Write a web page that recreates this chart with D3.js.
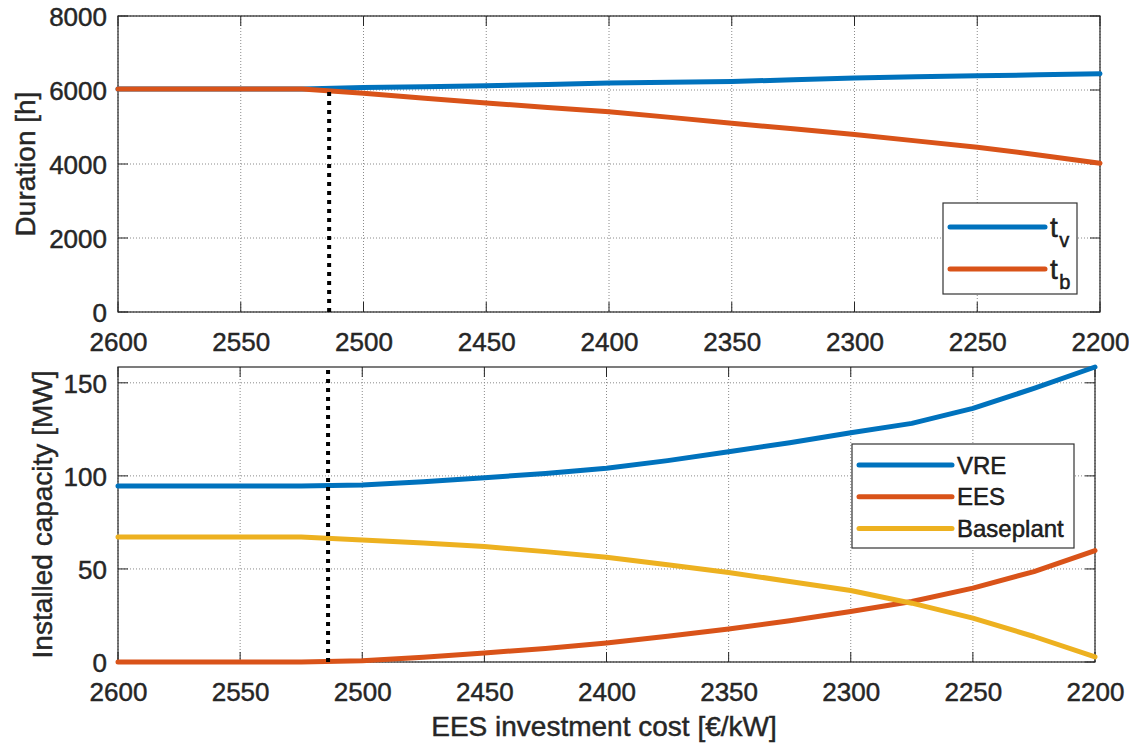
<!DOCTYPE html>
<html><head><meta charset="utf-8">
<script src="https://cdn.jsdelivr.net/npm/d3@7/dist/d3.min.js"></script>
<style>body{margin:0;background:#fff}svg{display:block}text{font-family:"Liberation Sans",Arial,sans-serif;fill:#262626;stroke:#262626;stroke-width:0.45px}</style>
</head><body><svg id="c" width="1129" height="744"></svg>
<script>
const cost = [2600,2575,2550,2525,2500,2475,2450,2425,2400,2375,2350,2325,2300,2275,2250,2225,2200];
const tv = [6030,6030,6030,6030,6070,6090,6115,6150,6188,6210,6231,6275,6322,6355,6385,6410,6439];
const tb = [6030,6030,6030,6030,5910,5780,5649,5530,5415,5260,5100,4950,4795,4625,4453,4245,4022];
const vre = [94.6,94.6,94.6,94.6,95.1,96.8,99,101.3,104.1,108.2,113,117.8,123.2,128.2,136.3,147,158.5];
const ees = [0,0,0,0,0.7,2.5,4.8,7.3,10.2,13.8,17.7,22.2,27.1,32.5,39.7,48.6,59.9];
const base = [67.1,67.1,67.1,67.1,65.6,63.9,62,59.3,56.3,52.3,48.1,43.3,38.4,31.6,23.6,13.7,2.7];
const xTicks = [2600,2550,2500,2450,2400,2350,2300,2250,2200];
const yTicksTop = [0,2000,4000,6000,8000];
const yTicksBot = [0,50,100,150];
const threshold = 2514;
const colors = {blue:"#0072BD", orange:"#D95319", yellow:"#EDB120"};

const svg = d3.select("#c");

function panel(o){
  const x = d3.scaleLinear().domain([2600,2200]).range([o.l,o.r]);
  const y = d3.scaleLinear().domain(o.yd).range([o.b,o.t]);
  const g = svg.append("g");
  g.selectAll(".gx").data(xTicks).enter().append("line")
    .attr("x1",d=>x(d)).attr("x2",d=>x(d)).attr("y1",o.t).attr("y2",o.b)
    .attr("stroke","#8a8a8a").attr("stroke-width",1).attr("stroke-dasharray","1,2");
  g.selectAll(".gy").data(o.yt).enter().append("line")
    .attr("y1",d=>y(d)).attr("y2",d=>y(d)).attr("x1",o.l).attr("x2",o.r)
    .attr("stroke","#8a8a8a").attr("stroke-width",1).attr("stroke-dasharray","1,2");
  const ax = g.append("g").attr("transform",`translate(0,${o.b})`)
    .call(d3.axisBottom(x).tickValues(xTicks).tickSize(0).tickPadding(20).tickFormat(d3.format("d")));
  const ay = g.append("g").attr("transform",`translate(${o.l},0)`)
    .call(d3.axisLeft(y).tickValues(o.yt).tickSize(0).tickPadding(11).tickFormat(d3.format("d")));
  [ax,ay].forEach(a=>{a.select(".domain").remove();
    a.selectAll("text").attr("font-size",26).attr("fill","#262626").style("font-family","'Liberation Sans',Arial,sans-serif");});
  ax.selectAll("text").attr("dy","0.72em");
  ay.selectAll("text").attr("dy","0.36em");
  const tl = 10;
  xTicks.forEach(d=>{
    g.append("line").attr("x1",x(d)).attr("x2",x(d)).attr("y1",o.b).attr("y2",o.b-tl).attr("stroke","#262626");
    g.append("line").attr("x1",x(d)).attr("x2",x(d)).attr("y1",o.t).attr("y2",o.t+tl).attr("stroke","#262626");
  });
  o.yt.forEach(d=>{
    g.append("line").attr("y1",y(d)).attr("y2",y(d)).attr("x1",o.l).attr("x2",o.l+tl).attr("stroke","#262626");
    g.append("line").attr("y1",y(d)).attr("y2",y(d)).attr("x1",o.r).attr("x2",o.r-tl).attr("stroke","#262626");
  });
  g.append("rect").attr("x",o.l).attr("y",o.t).attr("width",o.r-o.l).attr("height",o.b-o.t)
    .attr("fill","none").attr("stroke","#262626").attr("stroke-width",1.2);
  const line = d3.line().x((d,i)=>x(cost[i])).y(d=>y(d));
  o.series.forEach(s=>{
    g.append("path").datum(s.v).attr("d",line).attr("fill","none")
      .attr("stroke",s.c).attr("stroke-width",5).attr("stroke-linejoin","round").attr("stroke-linecap","round");
  });
  g.append("line").attr("x1",x(threshold)).attr("x2",x(threshold))
    .attr("y1",y(o.yd[0])).attr("y2",y(o.thTop))
    .attr("stroke","#000").attr("stroke-width",4).attr("stroke-dasharray","4,5");
  g.append("text").attr("transform",`translate(${o.ylx},${(o.t+o.b)/2}) rotate(-90)`)
    .attr("text-anchor","middle").attr("dy","0.35em").attr("font-size",28).text(o.ylabel);
  const L = o.leg;
  g.append("rect").attr("x",L.x).attr("y",L.y).attr("width",L.w).attr("height",L.h)
    .attr("fill","#fff").attr("stroke","#333").attr("stroke-width",1.2);
  L.items.forEach((it,i)=>{
    const yy = L.y0 + i*L.dy;
    g.append("line").attr("x1",L.lx1).attr("x2",L.lx2).attr("y1",yy).attr("y2",yy)
      .attr("stroke",it.c).attr("stroke-width",5).attr("stroke-linecap","round");
    const t = g.append("text").attr("x",L.tx).attr("y",yy).attr("dy","0.36em").attr("font-size",L.fs).attr("fill","#000").style("stroke","#000");
    if(it.sub){
      t.append("tspan").text(it.label);
      t.append("tspan").attr("font-size",20).attr("dx",1.5).attr("dy",10).text(it.sub);
    } else t.text(it.label);
  });
  return {x,y};
}

panel({l:118,r:1100,t:16,b:312,yd:[0,8000],yt:yTicksTop,thTop:6000,ylx:25,ylabel:"Duration [h]",
  series:[{v:tv,c:colors.blue},{v:tb,c:colors.orange}],
  leg:{x:943,y:203,w:134,h:91,y0:227,dy:42,lx1:950,lx2:1045,tx:1050,fs:28,
    items:[{label:"t",sub:"v",c:colors.blue},{label:"t",sub:"b",c:colors.orange}]}});

panel({l:118,r:1095,t:367,b:662,yd:[0,158.5],yt:yTicksBot,thTop:158.5,ylx:42,ylabel:"Installed capacity [MW]",
  series:[{v:vre,c:colors.blue},{v:ees,c:colors.orange},{v:base,c:colors.yellow}],
  leg:{x:852,y:444,w:222,h:104,y0:465,dy:31.7,lx1:859,lx2:952,tx:957,fs:24,
    items:[{label:"VRE",c:colors.blue},{label:"EES",c:colors.orange},{label:"Baseplant",c:colors.yellow}]}});

svg.append("text").attr("x",604).attr("y",736).attr("text-anchor","middle").attr("font-size",28)
  .text("EES investment cost [€/kW]");
</script></body></html>
